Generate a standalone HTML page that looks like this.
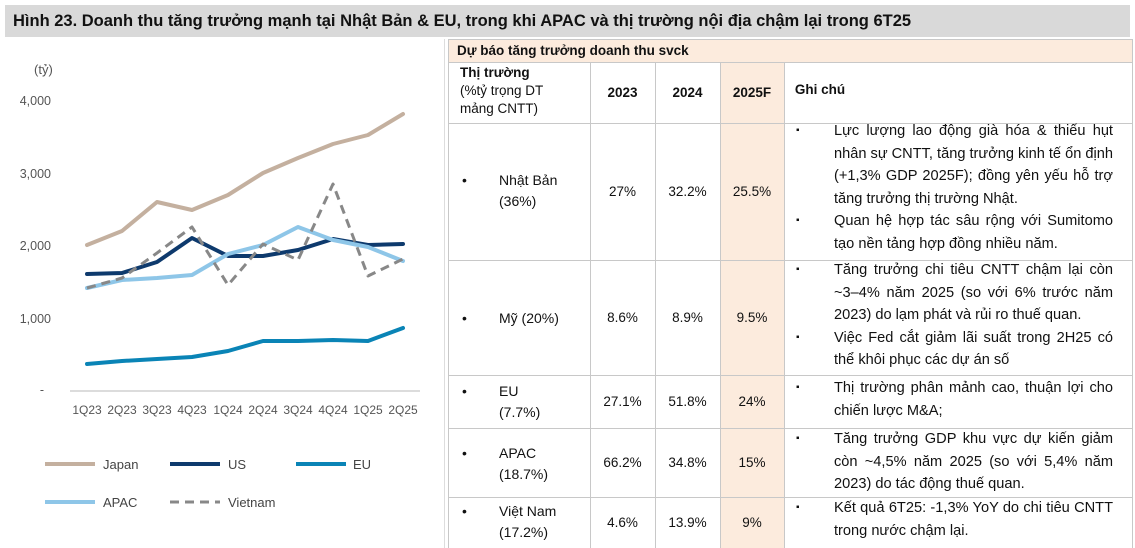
<!DOCTYPE html>
<html><head><meta charset="utf-8"><style>
body{margin:0;width:1135px;height:548px;background:#fff;font-family:"Liberation Sans","DejaVu Sans",sans-serif;position:relative;overflow:hidden;color:#111}
.title{position:absolute;left:5px;top:5px;width:1125px;height:32px;background:#d9d9d9;font-weight:bold;font-size:16.5px;line-height:32px;padding-left:8px;box-sizing:border-box}
.c{position:absolute;box-sizing:border-box;font-size:13.5px;display:flex;align-items:center;justify-content:center;text-align:center}
.hl{position:absolute;height:1px;background:#c8c8c8;left:448px;width:684px}
.vl{position:absolute;width:1px;background:#c8c8c8}
.pe{position:absolute;background:#fcebdd}
.n{position:absolute;font-size:14.6px;line-height:22.5px;text-align:justify}
.n div{position:relative;padding-left:44px}
.n div:before{content:"▪";position:absolute;left:6px;font-size:10px}
.mk{position:absolute;font-size:14px;line-height:21px}
</style></head><body>
<div class="title">Hình 23. Doanh thu tăng trưởng mạnh tại Nhật Bản &amp; EU, trong khi APAC và thị trường nội địa chậm lại trong 6T25</div>

<svg style="position:absolute;left:0;top:0" width="445" height="548" font-family="Liberation Sans, sans-serif" font-size="12.5" fill="#555">
<text x="34" y="74" font-size="13">(tỷ)</text>
<text x="51" y="105" text-anchor="end">4,000</text>
<text x="51" y="178" text-anchor="end">3,000</text>
<text x="51" y="250" text-anchor="end">2,000</text>
<text x="51" y="323" text-anchor="end">1,000</text>
<text x="44" y="394" text-anchor="end">-</text>
<line x1="70" y1="391" x2="420" y2="391" stroke="#d0d0d0" stroke-width="1.5"/>
<g font-size="12" text-anchor="middle">
<text x="87" y="414">1Q23</text><text x="122" y="414">2Q23</text><text x="157" y="414">3Q23</text><text x="192" y="414">4Q23</text><text x="228" y="414">1Q24</text><text x="263" y="414">2Q24</text><text x="298" y="414">3Q24</text><text x="333" y="414">4Q24</text><text x="368" y="414">1Q25</text><text x="403" y="414">2Q25</text>
</g>
<g fill="none" stroke-width="4" stroke-linejoin="round" stroke-linecap="round">
<polyline stroke="#c4b09f" points="87,245 122,231 157,202 192,210 228,195 263,173 298,158 333,144 368,135 403,114"/>
<polyline stroke="#0e3a6d" points="87,274 122,273 157,262 192,238 228,256 263,256 298,250 333,239 368,245 403,244"/>
<polyline stroke="#0a84b6" points="87,364 122,361 157,359 192,357 228,351 263,341 298,341 333,340 368,341 403,328"/>
<polyline stroke="#8ec6e8" points="87,288 122,280 157,278 192,275 228,254 263,245 298,227 333,240 368,247 403,261"/>
<polyline stroke="#888" stroke-width="3" stroke-dasharray="9,6" stroke-linecap="butt" points="87,288 122,278 157,253 192,227 228,285 263,244 298,260 333,184 368,276 403,259"/>
</g>
<g stroke-width="4">
<line x1="45" y1="464" x2="95" y2="464" stroke="#c4b09f"/>
<line x1="170" y1="464" x2="220" y2="464" stroke="#0e3a6d"/>
<line x1="296" y1="464" x2="346" y2="464" stroke="#0a84b6"/>
<line x1="45" y1="502" x2="95" y2="502" stroke="#8ec6e8"/>
<line x1="170" y1="502" x2="220" y2="502" stroke="#888" stroke-width="3" stroke-dasharray="9,6"/>
</g>
<g font-size="13" fill="#444">
<text x="103" y="469">Japan</text><text x="228" y="469">US</text><text x="353" y="469">EU</text>
<text x="103" y="507">APAC</text><text x="228" y="507">Vietnam</text>
</g>
</svg>
<div class="vl" style="left:444px;top:39px;height:509px;background:#ddd"></div>

<div class="pe" style="left:448px;top:39px;width:684px;height:23px"></div>
<div class="pe" style="left:720px;top:62px;width:64px;height:486px"></div>
<div style="position:absolute;left:457px;top:39px;line-height:23px;font-size:13.5px;font-weight:bold">Dự báo tăng trưởng doanh thu svck</div>

<div class="hl" style="top:39px"></div><div class="hl" style="top:62px"></div><div class="hl" style="top:123px"></div><div class="hl" style="top:260px"></div><div class="hl" style="top:375px"></div><div class="hl" style="top:428px"></div><div class="hl" style="top:497px"></div>
<div class="vl" style="left:448px;top:39px;height:509px"></div>
<div class="vl" style="left:1132px;top:39px;height:509px"></div>
<div class="vl" style="left:590px;top:62px;height:486px"></div>
<div class="vl" style="left:655px;top:62px;height:486px"></div>
<div class="vl" style="left:720px;top:62px;height:486px"></div>
<div class="vl" style="left:784px;top:62px;height:486px"></div>

<div style="position:absolute;left:460px;top:64px;font-size:13.5px;line-height:18px"><b>Thị trường</b><br>(%tỷ trọng DT<br>mảng CNTT)</div>
<div class="c" style="left:590px;top:62px;width:65px;height:61px;font-weight:bold">2023</div>
<div class="c" style="left:655px;top:62px;width:65px;height:61px;font-weight:bold">2024</div>
<div class="c" style="left:720px;top:62px;width:64px;height:61px;font-weight:bold">2025F</div>
<div class="c" style="left:784px;top:62px;width:72px;height:55px;font-weight:bold">Ghi chú</div>

<div class="mk" style="left:462px;top:170px">•</div><div class="mk" style="left:499px;top:170px">Nhật Bản<br>(36%)</div>
<div class="c" style="left:590px;top:123px;width:65px;height:137px">27%</div>
<div class="c" style="left:655px;top:123px;width:65px;height:137px">32.2%</div>
<div class="c" style="left:720px;top:123px;width:64px;height:137px">25.5%</div>
<div class="n" style="left:790px;top:120px;width:323px"><div>Lực lượng lao động già hóa &amp; thiếu hụt nhân sự CNTT, tăng trưởng kinh tế ổn định (+1,3% GDP 2025F); đồng yên yếu hỗ trợ tăng trưởng thị trường Nhật.</div><div>Quan hệ hợp tác sâu rộng với Sumitomo tạo nền tảng hợp đồng nhiều năm.</div></div>

<div class="mk" style="left:462px;top:308px">•</div><div class="mk" style="left:499px;top:308px">Mỹ (20%)</div>
<div class="c" style="left:590px;top:260px;width:65px;height:115px">8.6%</div>
<div class="c" style="left:655px;top:260px;width:65px;height:115px">8.9%</div>
<div class="c" style="left:720px;top:260px;width:64px;height:115px">9.5%</div>
<div class="n" style="left:790px;top:259px;width:323px"><div>Tăng trưởng chi tiêu CNTT chậm lại còn ~3–4% năm 2025 (so với 6% trước năm 2023) do lạm phát và rủi ro thuế quan.</div><div>Việc Fed cắt giảm lãi suất trong 2H25 có thể khôi phục các dự án số</div></div>

<div class="mk" style="left:462px;top:381px">•</div><div class="mk" style="left:499px;top:381px">EU<br>(7.7%)</div>
<div class="c" style="left:590px;top:375px;width:65px;height:53px">27.1%</div>
<div class="c" style="left:655px;top:375px;width:65px;height:53px">51.8%</div>
<div class="c" style="left:720px;top:375px;width:64px;height:53px">24%</div>
<div class="n" style="left:790px;top:377px;width:323px"><div>Thị trường phân mảnh cao, thuận lợi cho chiến lược M&amp;A;</div></div>

<div class="mk" style="left:462px;top:443px">•</div><div class="mk" style="left:499px;top:443px">APAC<br>(18.7%)</div>
<div class="c" style="left:590px;top:428px;width:65px;height:69px">66.2%</div>
<div class="c" style="left:655px;top:428px;width:65px;height:69px">34.8%</div>
<div class="c" style="left:720px;top:428px;width:64px;height:69px">15%</div>
<div class="n" style="left:790px;top:428px;width:323px"><div>Tăng trưởng GDP khu vực dự kiến giảm còn ~4,5% năm 2025 (so với 5,4% năm 2023) do tác động thuế quan.</div></div>

<div class="mk" style="left:462px;top:501px">•</div><div class="mk" style="left:499px;top:501px">Việt Nam<br>(17.2%)</div>
<div class="c" style="left:590px;top:497px;width:65px;height:51px">4.6%</div>
<div class="c" style="left:655px;top:497px;width:65px;height:51px">13.9%</div>
<div class="c" style="left:720px;top:497px;width:64px;height:51px">9%</div>
<div class="n" style="left:790px;top:497px;width:323px"><div>Kết quả 6T25: -1,3% YoY do chi tiêu CNTT trong nước chậm lại.</div></div>
</body></html>
